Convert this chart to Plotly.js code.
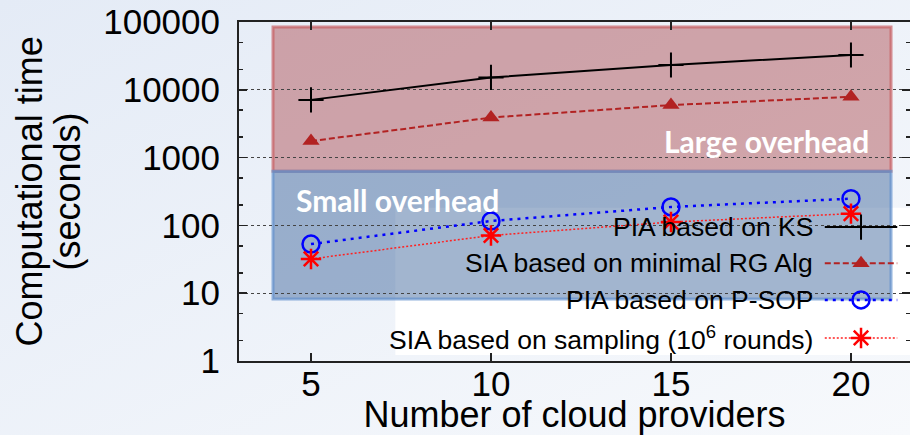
<!DOCTYPE html>
<html>
<head>
<meta charset="utf-8">
<script src="https://cdn.plot.ly/plotly-3.0.1.min.js"></script>
<style>
  html, body { margin: 0; padding: 0; }
  body { width: 910px; height: 435px; background: linear-gradient(to bottom right, #e4ebf6, #f7f9fc); overflow: hidden; }
  #chart { width: 910px; height: 435px; }
</style>
</head>
<body>
<div id="chart"></div>
<script>
// ---- data ----
const providers = [5, 10, 15, 20];
const piaKS = [7100, 15200, 23200, 32600];
const siaRG = [1750, 3900, 5950, 7900];
const piaPSOP = [53, 116, 187, 248];
const siaSampling = [32, 71, 112, 149];
const seriesNames = [
  'PIA based on KS',
  'SIA based on minimal RG Alg',
  'PIA based on P-SOP',
  'SIA based on sampling (10<sup>6</sup> rounds)'
];
const yTickVals = [1, 10, 100, 1000, 10000, 100000];
const yTickText = ['1', '10', '100', '1000', '10000', '100000'];
const xTickVals = [5, 10, 15, 20];

// ---- styles ----
const styles = [
  {line: {color: '#000000', width: 2, dash: 'solid'}, marker: {symbol: 'cross-thin-open', size: 18, color: '#000000', line: {width: 2, color: '#000000'}}},
  {line: {color: '#b22222', width: 2, dash: '6px,3px'}, marker: {symbol: 'triangle-up', size: 15, color: '#b22222', line: {width: 0}}},
  {line: {color: '#0000ff', width: 2.5, dash: '3px,5px'}, marker: {symbol: 'circle-open', size: 17, color: '#0000ff', line: {width: 2.5, color: '#0000ff'}}},
  {line: {color: '#ff2020', width: 1.5, dash: '2px,2px'}, marker: {symbol: 'asterisk-open', size: 17, color: '#ff0000', line: {width: 2.5, color: '#ff0000'}}}
];
const seriesValues = [piaKS, siaRG, piaPSOP, siaSampling];

const traces = seriesValues.map((vals, i) => ({
  type: 'scatter', mode: 'lines+markers',
  x: providers, y: vals, name: seriesNames[i],
  line: styles[i].line, marker: styles[i].marker,
  showlegend: false, cliponaxis: false
}));

// ---- hand-drawn gnuplot-style legend (text left of key) ----
const LEG = {textX: 0.858, lineX0: 0.873, lineX1: 0.981, symX: 0.927, rows: [0.395, 0.288, 0.180, 0.068]};
seriesNames.forEach((n, i) => {
  traces.push({
    type: 'scatter', mode: 'markers', xaxis: 'x2', yaxis: 'y2',
    x: [LEG.symX], y: [LEG.rows[i]], marker: styles[i].marker,
    showlegend: false, hoverinfo: 'skip', cliponaxis: false
  });
});

const shapes = [
  // legend box (opaque white, hides grid)
  {type: 'rect', xref: 'paper', yref: 'paper', x0: 0.233, x1: 1.0, y0: 0.018, y1: 0.452,
   fillcolor: '#ffffff', line: {width: 0}, layer: 'between'},
  // Large overhead box
  {type: 'rect', xref: 'paper', yref: 'paper', x0: 0.0507, x1: 0.9717, y0: 0.560, y1: 0.985,
   fillcolor: 'rgba(165,55,60,0.42)', line: {color: 'rgba(200,95,100,0.7)', width: 3}, layer: 'between'},
  // Small overhead box
  {type: 'rect', xref: 'paper', yref: 'paper', x0: 0.0507, x1: 0.9717, y0: 0.183, y1: 0.560,
   fillcolor: 'rgba(60,100,155,0.48)', line: {color: 'rgba(100,145,205,0.7)', width: 3}, layer: 'between'}
];
styles.forEach((s, i) => {
  shapes.push({type: 'line', xref: 'paper', yref: 'paper', x0: LEG.lineX0, x1: LEG.lineX1,
    y0: LEG.rows[i], y1: LEG.rows[i], line: {color: s.line.color, width: s.line.width, dash: s.line.dash}, layer: 'between'});
});

const annotations = seriesNames.map((n, i) => ({
  xref: 'paper', yref: 'paper', x: LEG.textX, y: LEG.rows[i], xanchor: 'right', yanchor: 'middle',
  text: n, showarrow: false, font: {family: 'Liberation Sans, Arial, sans-serif', size: 26.5, color: '#000'}
}));
annotations.push(
  {xref: 'paper', yref: 'paper', x: 0.7855, y: 0.650, xanchor: 'center', yanchor: 'middle', showarrow: false,
   text: '<b>Large overhead</b>', font: {family: 'Lato, Open Sans, sans-serif', size: 30, color: '#ffffff'}},
  {xref: 'paper', yref: 'paper', x: 0.2355, y: 0.475, xanchor: 'center', yanchor: 'middle', showarrow: false,
   text: '<b>Small overhead</b>', font: {family: 'Lato, Open Sans, sans-serif', size: 30, color: '#ffffff'}},
  {xref: 'paper', yref: 'paper', x: -0.3115, y: 0.5, xanchor: 'center', yanchor: 'middle', showarrow: false,
   textangle: -90, text: 'Computational time', font: {family: 'Liberation Sans, Arial, sans-serif', size: 36, color: '#000'}},
  {xref: 'paper', yref: 'paper', x: -0.2563, y: 0.5, xanchor: 'center', yanchor: 'middle', showarrow: false,
   textangle: -90, text: '(seconds)', font: {family: 'Liberation Sans, Arial, sans-serif', size: 36, color: '#000'}}
);

const axisFont = {family: 'Liberation Sans, Arial, sans-serif', size: 35, color: '#000'};

const layout = {
  width: 910, height: 435,
  margin: {l: 239, r: 0, t: 22, b: 74},
  paper_bgcolor: 'rgba(0,0,0,0)',
  plot_bgcolor: 'rgba(0,0,0,0)',
  showlegend: false,
  xaxis: {
    range: [3, 21.64], tickmode: 'array', tickvals: xTickVals, ticks: 'inside', ticklen: 8, tickwidth: 1.5,
    tickcolor: '#222', showline: true, linecolor: '#222', linewidth: 2, mirror: 'ticks', showgrid: false,
    zeroline: false, tickfont: axisFont, ticklabelstandoff: -9,
    title: {text: 'Number of cloud providers', font: {family: 'Liberation Sans, Arial, sans-serif', size: 36, color: '#000'}, standoff: 2}
  },
  yaxis: {
    type: 'log', range: [0, 5], tickmode: 'array', tickvals: yTickVals, ticktext: yTickText,
    ticks: 'inside', ticklen: 8, tickwidth: 1.5, tickcolor: '#222',
    showline: true, linecolor: '#222', linewidth: 2, mirror: 'ticks',
    showgrid: true, gridcolor: '#444', gridwidth: 1, griddash: 'dot', zeroline: false,
    tickfont: axisFont, ticklabelstandoff: 10,
    minor: {dtick: 'D2', ticks: 'inside', ticklen: 4, tickcolor: '#222', tickwidth: 1.5, showgrid: false}
  },
  xaxis2: {overlaying: 'x', range: [0, 1], visible: false, fixedrange: true},
  yaxis2: {overlaying: 'y', range: [0, 1], visible: false, fixedrange: true},
  shapes: shapes,
  annotations: annotations
};

Plotly.newPlot('chart', traces, layout, {displayModeBar: false, staticPlot: true});
</script>
</body>
</html>
